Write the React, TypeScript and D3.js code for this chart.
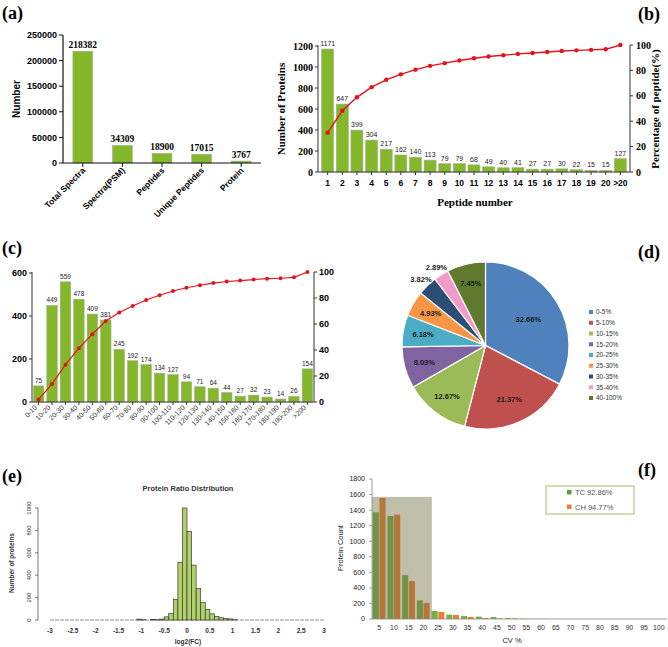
import React from "react";
import * as d3 from "d3";

// ---------- DATA ----------
const aCats = ["Total Spectra", "Spectra(PSM)", "Peptides", "Unique Peptides", "Protein"];
const aVals = [218382, 34309, 18900, 17015, 3767];
const aTicks = [0, 50000, 100000, 150000, 200000, 250000];

const bCats = ["1","2","3","4","5","6","7","8","9","10","11","12","13","14","15","16","17","18","19","20",">20"];
const bVals = [1171, 647, 399, 304, 217, 162, 140, 113, 79, 79, 68, 49, 40, 41, 27, 27, 30, 22, 15, 15, 127];
const bPct = [31.0, 48.2, 58.8, 66.8, 72.6, 76.9, 80.6, 83.6, 85.7, 87.8, 89.6, 90.9, 91.9, 93.0, 93.7, 94.5, 95.3, 95.8, 96.2, 96.6, 100];
const bTicksL = [0, 200, 400, 600, 800, 1000, 1200];
const bTicksR = [0, 20, 40, 60, 80, 100];

const cCats = ["0-10","10-20","20-30","30-40","40-50","50-60","60-70","70-80","80-90","90-100","100-110","110-120","120-130","130-140","140-150","150-160","160-170","170-180","180-190","190-200",">200"];
const cVals = [75, 449, 559, 478, 409, 381, 245, 192, 174, 134, 127, 94, 71, 64, 44, 27, 32, 23, 14, 26, 154];
const cPct = [2.0, 13.9, 28.7, 41.4, 52.2, 62.3, 68.8, 73.9, 78.5, 82.1, 85.4, 87.9, 89.8, 91.5, 92.7, 93.4, 94.2, 94.9, 95.2, 95.9, 100];
const cTicksL = [0, 200, 400, 600];
const cTicksR = [0, 20, 40, 60, 80, 100];

const dCats = ["0-5%","5-10%","10-15%","15-20%","20-25%","25-30%","30-35%","35-40%","40-100%"];
const dVals = [32.66, 21.37, 12.67, 8.03, 6.18, 4.93, 3.82, 2.89, 7.45];
const dColors = ["#4F81BD","#C0504D","#9BBB59","#8064A2","#4BACC6","#F79646","#2C4D75","#F29BCB","#5F7A2E"];

const eBins = [-1.1,-1.0,-0.9,-0.8,-0.7,-0.6,-0.5,-0.4,-0.3,-0.2,-0.1,0,0.1,0.2,0.3,0.4,0.5,0.6,0.7,0.8,0.9,1.0];
const eCounts = [8,3,0,6,3,8,28,60,185,515,1000,790,490,280,155,95,55,30,20,12,10,3];
const eXTicks = [-3,-2.5,-2,-1.5,-1,-0.5,0,0.5,1,1.5,2,2.5,3];
const eYTicks = [0,200,400,600,800,1000];
const eBinWidth = 0.1;

const fCats = ["5","10","15","20","25","30","35","40","45","50","55","60","65","70","75","80","85","90","95","100"];
const fTC = [1372,1325,564,239,103,56,38,30,26,13,4,2,1,1,1,0,0,0,0,0];
const fCH = [1556,1342,487,205,90,51,26,13,9,9,4,2,1,0,0,0,0,0,0,0];
const fTicks = [0,200,400,600,800,1000,1200,1400,1600,1800];
const fLegend = ["TC 92.86%", "CH 94.77%"];
const fShadeTop = 1570;

// ---------- STYLE ----------
const SANS = "'Liberation Sans', Arial, sans-serif";
const SERIF = "'Liberation Serif', 'Times New Roman', serif";
const GREEN = "#84B82A";
const RED = "#E5121B";

function fmtNum(v: number) { return String(v); }

function PanelA() {
  const x = d3.scaleBand().domain(aCats).range([63, 261]).paddingInner(0.5).paddingOuter(0.25);
  const y = d3.scaleLinear().domain([0, 250000]).range([163, 35]);
  return (
    <g>
      <text x={2} y={19} fontFamily={SERIF} fontWeight="bold" fontSize={18}>(a)</text>
      {aCats.map((c, i) => (
        <g key={c}>
          <rect x={x(c)!} y={y(aVals[i])} width={x.bandwidth()} height={y(0) - y(aVals[i])} fill={GREEN} stroke="#a4ad98" strokeWidth={0.6} />
          <text x={x(c)! + x.bandwidth() / 2} y={y(aVals[i]) - 3} textAnchor="middle" fontFamily={SERIF} fontWeight="bold" fontSize={9.5}>{aVals[i]}</text>
          <line x1={x(c)! + x.bandwidth() / 2} x2={x(c)! + x.bandwidth() / 2} y1={163} y2={167} stroke="#111" strokeWidth={1} />
          <text transform={`translate(${x(c)! + x.bandwidth() / 2 + 3},${171}) rotate(-45)`} textAnchor="end" fontFamily={SANS} fontWeight="bold" fontSize={8.5}>{c}</text>
        </g>
      ))}
      <line x1={63} x2={63} y1={35} y2={163} stroke="#111" strokeWidth={1.2} />
      <line x1={63} x2={261} y1={163} y2={163} stroke="#111" strokeWidth={1.2} />
      {aTicks.map(t => (
        <g key={t}>
          <line x1={59} x2={63} y1={y(t)} y2={y(t)} stroke="#111" />
          <text x={57} y={y(t)} dy="0.35em" textAnchor="end" fontFamily={SANS} fontWeight="bold" fontSize={9}>{t}</text>
        </g>
      ))}
      <text transform="translate(20,99) rotate(-90)" textAnchor="middle" fontFamily={SANS} fontWeight="bold" fontSize={10}>Number</text>
    </g>
  );
}

function PanelB() {
  const x = d3.scaleBand().domain(bCats).range([318, 630]).paddingInner(0.18).paddingOuter(0.25);
  const y = d3.scaleLinear().domain([0, 1200]).range([172, 46]);
  const yr = d3.scaleLinear().domain([0, 100]).range([172, 45]);
  const cx = (c: string) => x(c)! + x.bandwidth() / 2;
  const line = d3.line<number>().x((_, i) => cx(bCats[i])).y(v => yr(v));
  return (
    <g>
      <text x={638} y={20} fontFamily={SERIF} fontWeight="bold" fontSize={18}>(b)</text>
      {bCats.map((c, i) => (
        <g key={c}>
          <rect x={x(c)!} y={y(bVals[i])} width={x.bandwidth()} height={y(0) - y(bVals[i])} fill={GREEN} stroke="#a4ad98" strokeWidth={0.6} />
          <text x={cx(c)} y={y(bVals[i]) - 3} textAnchor="middle" fontFamily={SANS} fontSize={7} fill="#222">{bVals[i]}</text>
          <line x1={cx(c)} x2={cx(c)} y1={172} y2={175} stroke="#333" />
          <text x={cx(c)} y={186} textAnchor="middle" fontFamily={SANS} fontWeight="bold" fontSize={8.5}>{c}</text>
        </g>
      ))}
      <path d={line(bPct)!} fill="none" stroke={RED} strokeWidth={1.4} />
      {bPct.map((v, i) => <circle key={i} cx={cx(bCats[i])} cy={yr(v)} r={2.2} fill={RED} />)}
      <line x1={318} x2={318} y1={45} y2={172} stroke="#333" strokeWidth={1} />
      <line x1={630} x2={630} y1={45} y2={172} stroke="#333" strokeWidth={1} />
      <line x1={318} x2={630} y1={172} y2={172} stroke="#333" strokeWidth={1} />
      {bTicksL.map(t => (
        <g key={t}>
          <line x1={315} x2={318} y1={y(t)} y2={y(t)} stroke="#333" />
          <text x={313} y={y(t)} dy="0.35em" textAnchor="end" fontFamily={SERIF} fontWeight="bold" fontSize={10}>{t}</text>
        </g>
      ))}
      {bTicksR.map(t => (
        <g key={t}>
          <line x1={630} x2={633} y1={yr(t)} y2={yr(t)} stroke="#333" />
          <text x={636} y={yr(t)} dy="0.35em" textAnchor="start" fontFamily={SERIF} fontWeight="bold" fontSize={10}>{t}</text>
        </g>
      ))}
      <text transform="translate(285,109) rotate(-90)" textAnchor="middle" fontFamily={SERIF} fontWeight="bold" fontSize={11}>Number of Proteins</text>
      <text transform="translate(659,109) rotate(-90)" textAnchor="middle" fontFamily={SERIF} fontWeight="bold" fontSize={11}>Percentage of peptide(%)</text>
      <text x={475} y={206} textAnchor="middle" fontFamily={SERIF} fontWeight="bold" fontSize={11}>Peptide number</text>
    </g>
  );
}

function PanelC() {
  const x = d3.scaleBand().domain(cCats).range([32, 314]).paddingInner(0.22).paddingOuter(0.1);
  const y = d3.scaleLinear().domain([0, 600]).range([402, 273]);
  const yr = d3.scaleLinear().domain([0, 100]).range([402, 272]);
  const cx = (c: string) => x(c)! + x.bandwidth() / 2;
  const line = d3.line<number>().x((_, i) => cx(cCats[i])).y(v => yr(v));
  return (
    <g>
      <text x={2} y={254} fontFamily={SERIF} fontWeight="bold" fontSize={18}>(c)</text>
      {cCats.map((c, i) => (
        <g key={c}>
          <rect x={x(c)!} y={y(cVals[i])} width={x.bandwidth()} height={y(0) - y(cVals[i])} fill={GREEN} stroke="#a4ad98" strokeWidth={0.6} />
          <text x={cx(c)} y={y(cVals[i]) - 3} textAnchor="middle" fontFamily={SANS} fontSize={6.5} fill="#222">{cVals[i]}</text>
          <line x1={cx(c)} x2={cx(c)} y1={402} y2={405} stroke="#333" />
          <text transform={`translate(${cx(c) - 1},${408}) rotate(-45)`} textAnchor="end" fontFamily={SANS} fontSize={7} fill="#333">{c}</text>
        </g>
      ))}
      <path d={line(cPct)!} fill="none" stroke={RED} strokeWidth={1.2} />
      {cPct.map((v, i) => <circle key={i} cx={cx(cCats[i])} cy={yr(v)} r={2} fill={RED} />)}
      <line x1={32} x2={32} y1={272} y2={402} stroke="#333" />
      <line x1={314} x2={314} y1={272} y2={402} stroke="#333" />
      <line x1={32} x2={314} y1={402} y2={402} stroke="#333" />
      {cTicksL.map(t => (
        <g key={t}>
          <line x1={29} x2={32} y1={y(t)} y2={y(t)} stroke="#333" />
          <text x={27} y={y(t)} dy="0.35em" textAnchor="end" fontFamily={SANS} fontWeight="bold" fontSize={9}>{t}</text>
        </g>
      ))}
      {cTicksR.map(t => (
        <g key={t}>
          <line x1={314} x2={317} y1={yr(t)} y2={yr(t)} stroke="#333" />
          <text x={319} y={yr(t)} dy="0.35em" textAnchor="start" fontFamily={SANS} fontWeight="bold" fontSize={9}>{t}</text>
        </g>
      ))}
    </g>
  );
}

function PanelD() {
  const cx = 485.5, cy = 345.5, R = 83.5;
  const pie = d3.pie<number>().sort(null).value(v => v);
  const arcs = pie(dVals);
  const arc = d3.arc<d3.PieArcDatum<number>>().innerRadius(0).outerRadius(R);
  const lr = (p: number) => (p > 30 ? 0.6 : p > 20 ? 0.7 : p < 4 ? 1.11 : 0.76) * R;
  return (
    <g>
      <text x={638} y={258} fontFamily={SERIF} fontWeight="bold" fontSize={18}>(d)</text>
      <g transform={`translate(${cx},${cy})`}>
        {arcs.map((a, i) => (
          <path key={i} d={arc(a)!} fill={dColors[i]} stroke="#fff" strokeWidth={1.2} />
        ))}
        {arcs.map((a, i) => {
          const m = (a.startAngle + a.endAngle) / 2;
          const r = lr(dVals[i]);
          return (
            <text key={"l" + i} x={r * Math.sin(m)} y={-r * Math.cos(m)} dy="0.35em" textAnchor="middle" fontFamily={SANS} fontWeight="bold" fontSize={7.5} fill="#1a1a1a">
              {dVals[i].toFixed(2)}%
            </text>
          );
        })}
      </g>
      {dCats.map((c, i) => (
        <g key={c}>
          <rect x={589} y={312 + i * 10.75 - 2} width={4} height={4} fill={dColors[i]} />
          <text x={596} y={312 + i * 10.75} dy="0.35em" fontFamily={SANS} fontSize={6.5} fill="#333">{c}</text>
        </g>
      ))}
    </g>
  );
}

function PanelE() {
  const x = d3.scaleLinear().domain([-3, 3]).range([50, 324]);
  const y = d3.scaleLinear().domain([0, 1000]).range([620, 508]);
  return (
    <g>
      <text x={2} y={482} fontFamily={SERIF} fontWeight="bold" fontSize={18}>(e)</text>
      <text x={188} y={491} textAnchor="middle" fontFamily={SANS} fontWeight="bold" fontSize={7.5} fill="#333">Protein Ratio Distribution</text>
      <line x1={x(-3)} x2={x(3)} y1={620} y2={620} stroke="#777" strokeWidth={0.8} strokeDasharray="4,1" />
      {eBins.map((b, i) => (
        <rect key={i} x={x(b)} y={y(eCounts[i])} width={x(b + eBinWidth) - x(b)} height={y(0) - y(eCounts[i])} fill="#B0D167" stroke="#3a3a3a" strokeWidth={0.7} />
      ))}
      <line x1={38} x2={38} y1={y(0)} y2={y(1000)} stroke="#444" strokeWidth={0.7} />
      {eYTicks.map(t => (
        <g key={t}>
          <line x1={35} x2={38} y1={y(t)} y2={y(t)} stroke="#444" strokeWidth={0.7} />
          <text transform={`translate(31,${y(t)}) rotate(-90)`} textAnchor="middle" fontFamily={SANS} fontSize={6} fill="#333">{t}</text>
        </g>
      ))}
      {eXTicks.map(t => (
        <text key={t} x={x(t)} y={633} textAnchor="middle" fontFamily={SANS} fontWeight="bold" fontSize={6.5} fill="#333">{t}</text>
      ))}
      <text transform="translate(14,563) rotate(-90)" textAnchor="middle" fontFamily={SANS} fontWeight="bold" fontSize={6.5} fill="#333">Number of proteins</text>
      <text x={188} y={644} textAnchor="middle" fontFamily={SANS} fontWeight="bold" fontSize={6.5} fill="#333">log2(FC)</text>
    </g>
  );
}

function PanelF() {
  const x = d3.scaleBand().domain(fCats).range([372, 666]).paddingInner(0.12).paddingOuter(0.05);
  const y = d3.scaleLinear().domain([0, 1800]).range([619, 479]);
  const bw = x.bandwidth();
  const half = bw / 2;
  const shadeX0 = x("5")! - 0.7;
  const shadeX1 = x("20")! + bw + 2;
  return (
    <g>
      <text x={638} y={476} fontFamily={SERIF} fontWeight="bold" fontSize={18}>(f)</text>
      {fCats.map((c, i) => (
        <g key={c}>
          <rect x={x(c)!} y={y(fTC[i])} width={half - 0.4} height={y(0) - y(fTC[i])} fill="#72B343" />
          <rect x={x(c)! + half + 0.2} y={y(fCH[i])} width={half - 0.4} height={y(0) - y(fCH[i])} fill="#ED7D31" />
          <text x={x(c)! + half} y={630} textAnchor="middle" fontFamily={SANS} fontSize={7} fill="#333">{c}</text>
        </g>
      ))}
      <rect x={shadeX0} y={y(fShadeTop)} width={shadeX1 - shadeX0} height={y(0) - y(fShadeTop)} fill="#6f6f45" opacity={0.45} />
      <line x1={372} x2={372} y1={479} y2={619} stroke="#888" strokeWidth={0.8} />
      <line x1={372} x2={667} y1={619} y2={619} stroke="#888" strokeWidth={0.8} />
      {fTicks.map(t => (
        <g key={t}>
          <line x1={369} x2={372} y1={y(t)} y2={y(t)} stroke="#888" strokeWidth={0.8} />
          <text x={365} y={y(t)} dy="0.35em" textAnchor="end" fontFamily={SANS} fontSize={7} fill="#222">{t}</text>
        </g>
      ))}
      <text transform="translate(343,548) rotate(-90)" textAnchor="middle" fontFamily={SANS} fontSize={7.5} fill="#222">Protein Count</text>
      <text x={512} y={643} textAnchor="middle" fontFamily={SANS} fontSize={7.5} fill="#222">CV %</text>
      <rect x={546} y={486} width={88} height={28} fill="#fff" stroke="#9BBB59" strokeWidth={0.9} />
      {fLegend.map((l, i) => (
        <g key={l}>
          <rect x={567} y={490 + i * 14.5} width={4.5} height={4.5} fill={i === 0 ? "#5A9E32" : "#ED7D31"} />
          <text x={575} y={492.5 + i * 14.5} dy="0.35em" fontFamily={SANS} fontSize={7.5} fill="#555">{l}</text>
        </g>
      ))}
    </g>
  );
}

export default function App() {
  return (
    <svg width={668} height={647} viewBox="0 0 668 647" style={{ position: "absolute", left: 0, top: 0, background: "#fff" }}>
      <rect width={668} height={647} fill="#fff" />
      <PanelA />
      <PanelB />
      <PanelC />
      <PanelD />
      <PanelE />
      <PanelF />
    </svg>
  );
}
